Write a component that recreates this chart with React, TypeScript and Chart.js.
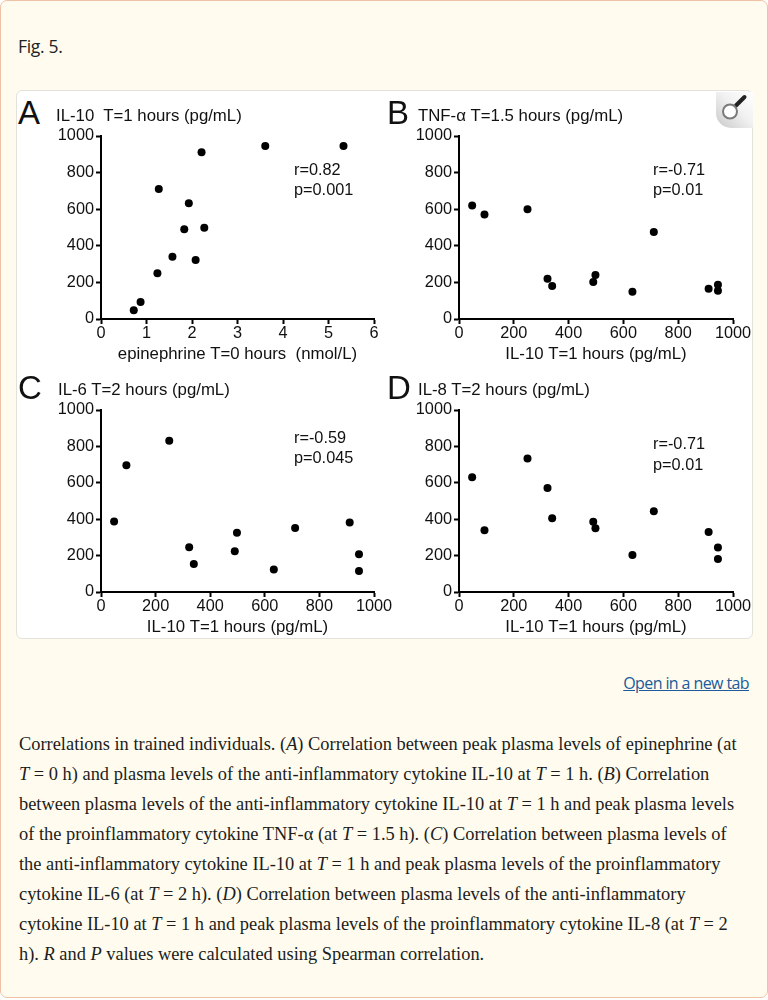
import React, { useEffect, useRef } from "react";
import { Chart, registerables } from "chart.js";

Chart.register(...registerables);

// ---------------- data ----------------
const il10T1 = [48, 93, 250, 323, 340, 490, 498, 633, 711, 911, 945, 945];
const epinephrineT0 = [0.72, 0.87, 1.24, 2.08, 1.57, 1.83, 2.27, 1.93, 1.27, 2.21, 3.61, 5.33];
const tnfAlphaT15 = [620, 571, 600, 220, 180, 202, 240, 149, 476, 165, 187, 155];
const il6T2 = [387, 697, 831, 246, 154, 224, 325, 123, 352, 382, 207, 116];
const il8T2 = [630, 339, 733, 571, 405, 386, 350, 203, 443, 330, 245, 181];

const cytokineTicks = [0, 200, 400, 600, 800, 1000];
const epinephrineTicks = [0, 1, 2, 3, 4, 5, 6];

const panelLetters = ["A", "B", "C", "D"];
const panelTitles = [
  "IL-10  T=1 hours (pg/mL)",
  "TNF-α T=1.5 hours (pg/mL)",
  "IL-6 T=2 hours (pg/mL)",
  "IL-8 T=2 hours (pg/mL)",
];
const xTitles = [
  "epinephrine T=0 hours  (nmol/L)",
  "IL-10 T=1 hours (pg/mL)",
  "IL-10 T=1 hours (pg/mL)",
  "IL-10 T=1 hours (pg/mL)",
];
const rValues = ["r=0.82", "r=-0.71", "r=-0.59", "r=-0.71"];
const pValues = ["p=0.001", "p=0.01", "p=0.045", "p=0.01"];

const captionLines = [
  [["Correlations in trained individuals. ("], ["A", "i"], [") Correlation between peak plasma levels of epinephrine (at"]],
  [["T", "i"], [" = 0 h) and plasma levels of the anti-inflammatory cytokine IL-10 at "], ["T", "i"], [" = 1 h. ("], ["B", "i"], [") Correlation"]],
  [["between plasma levels of the anti-inflammatory cytokine IL-10 at "], ["T", "i"], [" = 1 h and peak plasma levels"]],
  [["of the proinflammatory cytokine TNF-α (at "], ["T", "i"], [" = 1.5 h). ("], ["C", "i"], [") Correlation between plasma levels of"]],
  [["the anti-inflammatory cytokine IL-10 at "], ["T", "i"], [" = 1 h and peak plasma levels of the proinflammatory"]],
  [["cytokine IL-6 (at "], ["T", "i"], [" = 2 h). ("], ["D", "i"], [") Correlation between plasma levels of the anti-inflammatory"]],
  [["cytokine IL-10 at "], ["T", "i"], [" = 1 h and peak plasma levels of the proinflammatory cytokine IL-8 (at "], ["T", "i"], [" = 2"]],
  [["h). "], ["R", "i"], [" and "], ["P", "i"], [" values were calculated using Spearman correlation."]],
];

// ---------------- layout (page coordinates) ----------------
const SANS = "'Liberation Sans', Arial, Helvetica, sans-serif";
const panelBoxes = [
  { L: 100, R: 373, T: 135, B: 318, lx: 17, lb: 123, tx: 55, tb: 121.5, ax: 293, rb: 174, pb: 194 },
  { L: 458, R: 732, T: 135, B: 318, lx: 386, lb: 123, tx: 417, tb: 121.5, ax: 652, rb: 173.5, pb: 194 },
  { L: 100, R: 373, T: 409, B: 591, lx: 17, lb: 398, tx: 57, tb: 395, ax: 293, rb: 442, pb: 462 },
  { L: 458, R: 732, T: 409, B: 591, lx: 386, lb: 398, tx: 417, tb: 395, ax: 652, rb: 448, pb: 469 },
];

function Txt(props: {
  x: number;
  base: number;
  size: number;
  family?: string;
  k?: number;
  align?: "left" | "right";
  style?: React.CSSProperties;
  children: React.ReactNode;
}) {
  const k = props.k ?? 0.8465;
  const top = props.base - k * props.size;
  const st: React.CSSProperties = {
    position: "absolute",
    top,
    fontFamily: props.family ?? SANS,
    fontSize: props.size,
    lineHeight: 1,
    whiteSpace: "pre",
    color: "#111",
    ...props.style,
  };
  if (props.align === "right") st.right = 768 - props.x;
  else st.left = props.x;
  return <div style={st}>{props.children}</div>;
}

function ScatterPanel(props: { idx: number; xs: number[]; ys: number[]; xTicks: number[] }) {
  const ref = useRef<HTMLCanvasElement | null>(null);
  const box = panelBoxes[props.idx];
  const padTop = 12;
  const padRight = 22;
  const yAxisW = 60;
  const xAxisH = 45;
  const w = box.R - box.L + yAxisW + padRight;
  const h = box.B - box.T + padTop + xAxisH;

  useEffect(() => {
    if (!ref.current) return;
    const tickFont = { family: SANS, size: 16.3 };
    const titleFont = { family: SANS, size: 16.8 };
    const xTicks = props.xTicks;
    const chart = new Chart(ref.current, {
      type: "scatter",
      data: {
        datasets: [
          {
            data: props.xs.map((x, i) => ({ x, y: props.ys[i] })),
            pointRadius: 4,
            pointHoverRadius: 4,
            pointBackgroundColor: "#000",
            pointBorderColor: "#000",
            pointBorderWidth: 0,
          },
        ],
      },
      options: {
        animation: false,
        responsive: true,
        maintainAspectRatio: false,
        events: [],
        layout: { padding: { top: padTop, right: padRight, left: 0, bottom: 0 } },
        plugins: { legend: { display: false }, tooltip: { enabled: false } },
        scales: {
          x: {
            type: "linear",
            min: xTicks[0],
            max: xTicks[xTicks.length - 1],
            afterBuildTicks: (s: any) => {
              s.ticks = xTicks.map((v) => ({ value: v }));
            },
            afterFit: (s: any) => {
              s.height = xAxisH;
            },
            ticks: {
              color: "#111",
              font: tickFont,
              padding: 0,
              maxRotation: 0,
              autoSkip: false,
              callback: (v: any) => String(v),
            },
            grid: { drawOnChartArea: false, drawTicks: true, tickLength: 5, tickColor: "#000", tickWidth: 2 },
            border: { display: true, color: "#000", width: 2 },
            title: { display: true, text: xTitles[props.idx], color: "#111", font: titleFont, padding: 0 },
          },
          y: {
            type: "linear",
            min: cytokineTicks[0],
            max: cytokineTicks[cytokineTicks.length - 1],
            afterBuildTicks: (s: any) => {
              s.ticks = cytokineTicks.map((v) => ({ value: v }));
            },
            afterFit: (s: any) => {
              s.width = yAxisW;
            },
            ticks: { color: "#111", font: tickFont, padding: 2, autoSkip: false, callback: (v: any) => String(v) },
            grid: { drawOnChartArea: false, drawTicks: true, tickLength: 5, tickColor: "#000", tickWidth: 2 },
            border: { display: true, color: "#000", width: 2 },
          },
        },
      },
    });
    return () => chart.destroy();
  }, []);

  return (
    <>
      <div style={{ position: "absolute", left: box.L - yAxisW, top: box.T - padTop, width: w, height: h }}>
        <canvas ref={ref} />
      </div>
      <Txt x={box.lx} base={box.lb} size={33}>{panelLetters[props.idx]}</Txt>
      <Txt x={box.tx} base={box.tb} size={16.8}>{panelTitles[props.idx]}</Txt>
      <Txt x={box.ax} base={box.rb} size={16.3}>{rValues[props.idx]}</Txt>
      <Txt x={box.ax} base={box.pb} size={16.3}>{pValues[props.idx]}</Txt>
    </>
  );
}

function Magnifier() {
  return (
    <svg style={{ position: "absolute", left: 715, top: 91 }} width={37} height={36} viewBox="0 0 37 36">
      <defs>
        <linearGradient id="mgGrad" x1="0" y1="1" x2="1" y2="0">
          <stop offset="0" stopColor="#c9c9c9" />
          <stop offset="0.55" stopColor="#f1f1f1" />
          <stop offset="1" stopColor="#ffffff" />
        </linearGradient>
      </defs>
      <path d="M0 0 H37 V36 H15 A15 15 0 0 1 0 21 Z" fill="url(#mgGrad)" />
      <line x1="20" y1="13.5" x2="28.5" y2="5" stroke="#222" strokeWidth={4} strokeLinecap="round" />
      <circle cx={14} cy={19.5} r={7} fill="#fff" stroke="#7a7a7a" strokeWidth={2} />
    </svg>
  );
}

export default function App() {
  useEffect(() => {
    document.body.style.margin = "0";
    document.body.style.background = "#fff";
  }, []);

  const serif = "'Liberation Serif', 'Times New Roman', serif";
  const openSans = "'Open Sans', 'Noto Sans', sans-serif";

  return (
    <div
      style={{
        position: "relative",
        width: 768,
        height: 998,
        boxSizing: "border-box",
        border: "1.5px solid #efc2a6",
        borderRadius: 7,
        background: "#fffcef",
        overflow: "hidden",
      }}
    >
      <Txt x={17} base={52.7} size={17.5} family={openSans} k={0.888} style={{ color: "#222", letterSpacing: -0.3 }}>
        Fig. 5.
      </Txt>

      <div
        style={{
          position: "absolute",
          left: 15,
          top: 89,
          width: 737,
          height: 549,
          boxSizing: "border-box",
          background: "#fff",
          border: "1px solid #e2e2dc",
          borderRadius: 6,
        }}
      />

      <ScatterPanel idx={0} xs={epinephrineT0} ys={il10T1} xTicks={epinephrineTicks} />
      <ScatterPanel idx={1} xs={il10T1} ys={tnfAlphaT15} xTicks={cytokineTicks} />
      <ScatterPanel idx={2} xs={il10T1} ys={il6T2} xTicks={cytokineTicks} />
      <ScatterPanel idx={3} xs={il10T1} ys={il8T2} xTicks={cytokineTicks} />

      <Magnifier />

      <Txt
        x={750}
        base={688.3}
        size={16}
        family={openSans}
        k={0.888}
        align="right"
        style={{ color: "#205a9a", textDecoration: "underline", letterSpacing: -0.6, lineHeight: 1 }}
      >
        Open in a new tab
      </Txt>

      <div style={{ position: "absolute", left: 18, top: 728.1, fontFamily: serif, fontSize: 18.4, lineHeight: "30px", color: "#1c1c1c" }}>
        {captionLines.map((line, i) => (
          <div key={i} style={{ whiteSpace: "pre" }}>
            {line.map((seg, j) => (seg[1] === "i" ? <i key={j}>{seg[0]}</i> : <span key={j}>{seg[0]}</span>))}
          </div>
        ))}
      </div>
    </div>
  );
}
